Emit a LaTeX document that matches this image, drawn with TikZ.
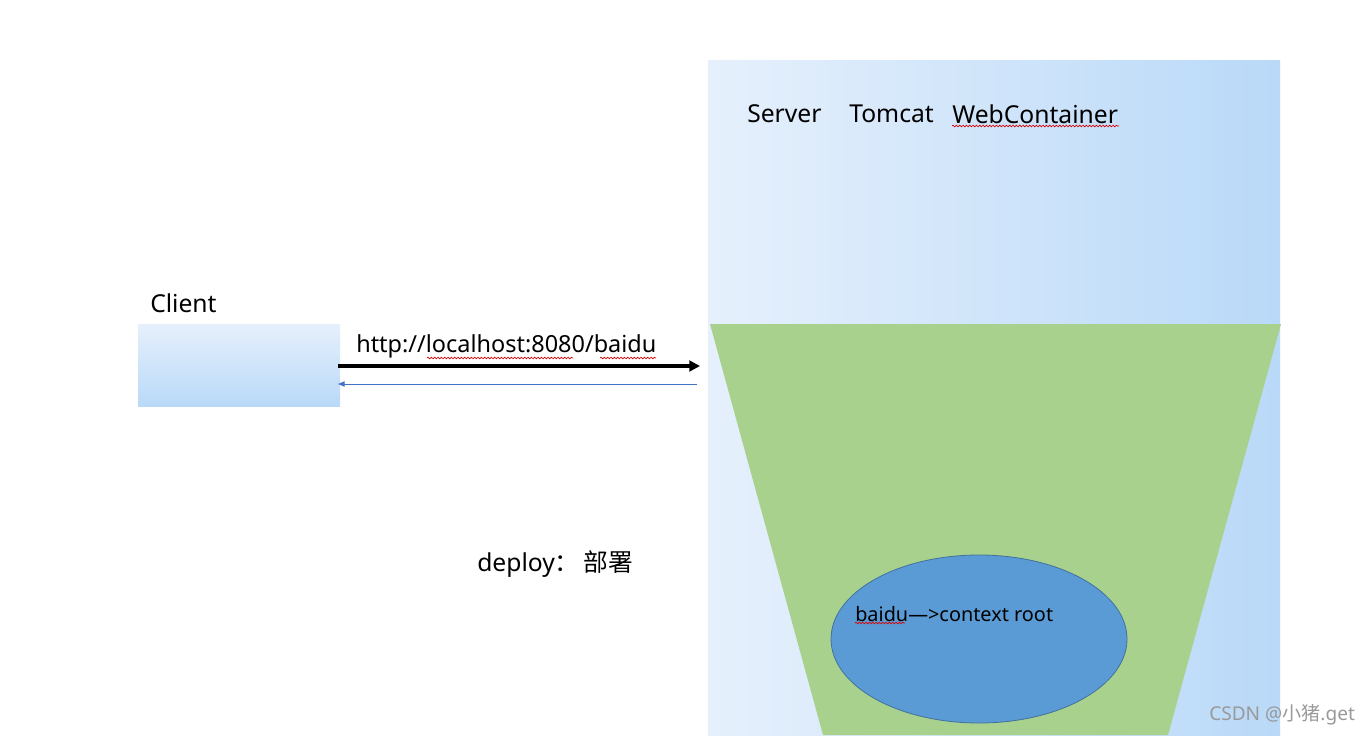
\documentclass[tikz,border=0pt]{standalone}
\usepackage{fontspec}
\setmainfont{Noto Sans}
\newfontfamily\cjk{Noto Sans CJK SC}
\usetikzlibrary{arrows.meta,decorations.pathmorphing,shapes.geometric}
\definecolor{lightA}{HTML}{E6F0FC}
\definecolor{lightB}{HTML}{B9D9F8}
\definecolor{trapgreen}{HTML}{A9D18E}
\definecolor{ellblue}{HTML}{5B9BD5}
\definecolor{ellborder}{HTML}{41719C}
\definecolor{retblue}{HTML}{4472C4}
\tikzset{
  lbl/.style={inner sep=0pt, anchor=west, text=black, font=\fontsize{18.5pt}{20pt}\selectfont},
  urlf/.style={inner sep=0pt, anchor=west, text=black, font=\fontsize{17.6pt}{20pt}\selectfont},
  small/.style={inner sep=0pt, anchor=west, text=black, font=\fontsize{14.9pt}{16pt}\selectfont},
  spell/.style={draw=red!85!black, line width=0.5pt, decorate, decoration={snake, amplitude=0.6pt, segment length=2.5pt}},
}
\begin{document}
\begin{tikzpicture}[x=0.75pt,y=-0.75pt]
\useasboundingbox[fill=white] (0,0) rectangle (1370,735);
% server container
\shade[left color=lightA, right color=lightB] (708,61) rectangle (1280,735);
\node[lbl] (server) at (747,114) {Server};
\node[lbl] (tomcat) at (849,114) {Tomcat};
\node[lbl] (web) at (952,114) {WebContainer};
\draw[spell] (952,126) -- (1119,126);
% trapezoid
\fill[trapgreen] (710,324) -- (1281,324) -- (1168,735) -- (823,735) -- cycle;
% ellipse
\node[ellipse, draw=ellborder, fill=ellblue, line width=0.6pt, minimum width=222pt, minimum height=126pt, inner sep=0pt] (ctx) at (979,639) {};
\node[small] (ctxt) at (855,614) {baidu—>context root};
\draw[spell] (855,623) -- (905,623);
% client
\shade[top color=lightA, bottom color=lightB] (138,324) rectangle (340,406);
\node[inner sep=0pt, minimum width=151.5pt, minimum height=61.5pt] (client) at (239,365) {};
\node[lbl] (clientlbl) at (150,303) {Client};
% arrows
\coordinate (srvL1) at (700,366);
\coordinate (srvL2) at (697,384);
\coordinate (cliR1) at (338,366);
\coordinate (cliR2) at (338,384);
\draw[line width=3pt, -{Triangle[length=8pt,width=8pt]}] (cliR1) -- (srvL1);
\draw[retblue, line width=0.75pt, -{Triangle[length=5pt,width=4pt]}] (srvL2) -- (cliR2);
\node[urlf] (url) at (356,346) {http://localhost:8080/baidu};
\draw[spell] (427,358) -- (573,358);
\draw[spell] (600,358) -- (656,358);
% deploy
\node[lbl] (deploy) at (477,564) {deploy{\cjk ：\,部署}};
% watermark
\node[inner sep=0pt, anchor=west, text=gray!80, font=\fontsize{14.3pt}{16pt}\selectfont] (wm) at (1209,715) {CSDN @{\cjk 小猪}.get};
\end{tikzpicture}
\end{document}
